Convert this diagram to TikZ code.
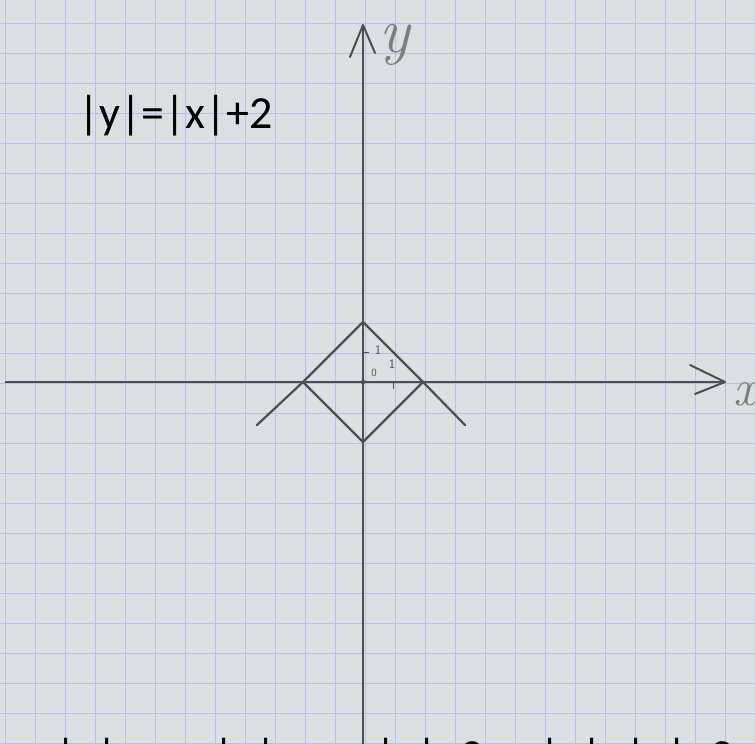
\documentclass[tikz,border=0pt]{standalone}
\usepackage{fontspec}
\newfontfamily\carl{Carlito}
\definecolor{paper}{RGB}{219,223,225}
\definecolor{gridc}{RGB}{182,191,230}
\definecolor{pencil}{RGB}{78,78,78}
\definecolor{pencillight}{RGB}{125,125,125}
\tikzset{
  gridline/.style={draw=gridc, line width=1pt},
  axisline/.style={draw=pencil, line width=1.8pt},
  graphline/.style={draw=pencil, line width=2.2pt, line cap=round, line join=round},
  headline/.style={draw=pencil, line width=2pt, line cap=round, line join=round},
  formula/.style={font=\carl\fontsize{46}{50}\selectfont, text=black, inner sep=0pt},
  handlabel/.style={text=pencillight, inner sep=0pt},
  smalllabel/.style={text=pencil, inner sep=0pt, font=\fontsize{13}{14}\selectfont\sffamily}
}
\newcommand{\lowplus}{\raisebox{-3pt}{+}}
\begin{document}
\begin{tikzpicture}[x=1pt,y=-1pt]
\useasboundingbox (0,0) rectangle (755,744);
\fill[paper] (0,0) rectangle (755,744);
\begin{scope}
\clip (0,0) rectangle (755,744);
\foreach \gx in {5,35,...,755} \draw[gridline] (\gx,0) -- (\gx,744);
\foreach \gy in {23,53,...,744} \draw[gridline] (0,\gy) -- (755,\gy);

% axes
\coordinate (xl) at (5,382);
\coordinate (xr) at (725,382);
\coordinate (yt) at (363,25);
\coordinate (yb) at (363,744);
\draw[axisline] (xl) -- (xr);
\draw[axisline] (yb) -- (yt);
\coordinate (xh1) at (690,365);
\coordinate (xh2) at (695,394);
\draw[headline] (xh1) -- (xr) -- (xh2);
\coordinate (yh1) at (350,57);
\coordinate (yh2) at (375,53);
\draw[headline] (yh1) -- (yt) -- (yh2);

% graph
\coordinate (O) at (363,382);
\coordinate (A) at (303,382);
\coordinate (B) at (423,382);
\coordinate (C) at (363,322);
\coordinate (D) at (363,442);
\coordinate (E) at (257,425);
\coordinate (F) at (465,425);
\draw[graphline] (E) -- (A) -- (C) -- (B) -- (F);
\draw[graphline] (A) -- (D) -- (B);

% ticks and origin dot
\coordinate (ty1) at (363,352);
\coordinate (ty2) at (369,352);
\draw[draw=pencil, line width=1pt] (ty1) -- (ty2);
\coordinate (tx1) at (393,383);
\coordinate (tx2) at (393,389);
\draw[draw=pencil, line width=1pt] (tx1) -- (tx2);
\fill[pencil] (O) circle (2.2pt);

% small labels
\node[smalllabel] (one1) at (378,350) {1};
\node[smalllabel, font=\fontsize{11}{12}\selectfont\sffamily] (zero) at (374,373) {0};
\node[smalllabel] (one2) at (392,364) {1};

% axis labels (handwritten)
\node[handlabel, font=\fontsize{64}{64}\selectfont\itshape, anchor=base] (ylab) at (395,52) {y};
\node[handlabel, font=\fontsize{52}{52}\selectfont\itshape, anchor=base] (xlab) at (745,405) {x};

% formula
\node[formula, anchor=base west] (f1) at (78,128) {|y|=|x|+2};

% cut-off captions at bottom
\node[formula, anchor=base west] (g1) at (55,771) {|x|};
\node[formula, anchor=base] (g2) at (163,771) {\lowplus};
\node[formula, anchor=base west] (g3) at (213,771) {|y|};
\node[formula, anchor=base] (g4) at (323,771) {=};
\node[formula, anchor=base west] (g5) at (375,771) {|x|\lowplus 2};
\node[formula, anchor=base west] (f3) at (539,771) {|y|=|x|\lowplus 2};
\end{scope}
\end{tikzpicture}
\end{document}
